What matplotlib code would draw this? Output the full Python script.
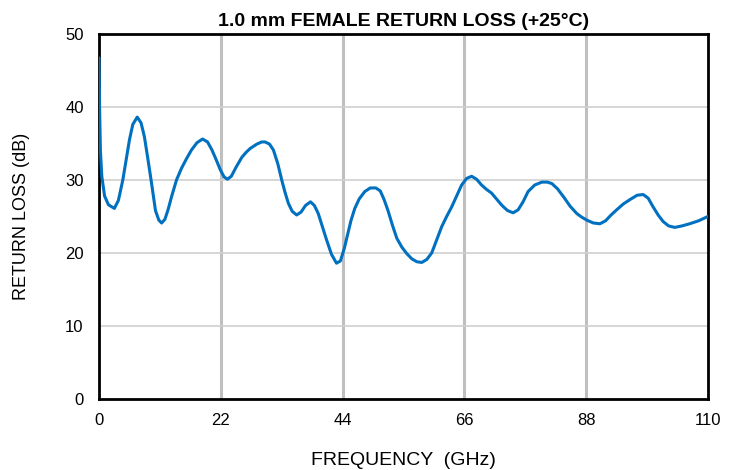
import numpy as np
import matplotlib
matplotlib.use("Agg")
import matplotlib.pyplot as plt

plt.rcParams['font.family'] = ['Liberation Sans', 'DejaVu Sans']

# values
freq_ghz = [0.0, 0.1, 0.25, 0.5, 1.0, 1.7, 2.77, 3.5, 4.3, 5.0, 5.5, 6.1,
            6.9, 7.6, 8.2, 8.8, 9.4, 10.2, 10.8, 11.3, 11.9, 12.5, 13.1, 14.0,
            14.9, 15.8, 16.7, 17.7, 18.7, 19.6, 20.4, 21.2, 21.9, 22.6, 23.2,
            23.9, 24.8, 25.8, 26.6, 27.3, 28.5, 29.4, 30.0, 30.8, 31.5, 32.3,
            33.0, 33.6, 34.2, 34.9, 35.7, 36.5, 37.3, 38.2, 38.9, 39.6, 40.3,
            41.1, 42.0, 42.9, 43.6, 44.3, 44.9, 45.5, 46.2, 47.0, 48.0, 49.0,
            50.0, 50.8, 51.5, 52.2, 53.0, 53.8, 54.7, 55.6, 56.5, 57.4, 58.3,
            59.2, 60.1, 61.0, 61.9, 62.8, 63.7, 64.6, 65.5, 66.4, 67.3, 68.2,
            69.1, 70.0, 70.9, 71.8, 72.8, 73.8, 74.8, 75.7, 76.6, 77.5, 78.7,
            80.0, 81.0, 81.8, 82.8, 83.9, 85.1, 86.3, 87.2, 88.1, 89.3, 90.5,
            91.5, 92.5, 93.5, 94.7, 95.9, 97.2, 98.3, 99.2, 100.1, 101.0,
            101.9, 102.9, 104.0, 105.3, 106.7, 108.3, 110.0]
return_loss_db = [46.7, 40.0, 34.0, 30.5, 27.8, 26.6, 26.1, 27.2, 30.0, 33.2,
                  35.5, 37.6, 38.6, 37.8, 35.9, 33.0, 30.0, 25.8, 24.5, 24.1,
                  24.6, 26.0, 27.7, 30.0, 31.6, 32.9, 34.1, 35.1, 35.6, 35.2,
                  34.1, 32.7, 31.4, 30.4, 30.1, 30.5, 31.8, 33.1, 33.8, 34.3,
                  34.9, 35.2, 35.2, 34.9, 34.1, 32.2, 30.0, 28.3, 26.8, 25.7,
                  25.2, 25.6, 26.5, 27.0, 26.5, 25.4, 23.7, 21.8, 19.8, 18.6,
                  18.9, 20.6, 22.5, 24.4, 26.1, 27.4, 28.4, 28.9, 28.9, 28.5,
                  27.3, 25.8, 23.8, 22.0, 20.8, 19.9, 19.2, 18.8, 18.7, 19.1,
                  20.0, 21.8, 23.6, 25.0, 26.3, 27.8, 29.3, 30.2, 30.5, 30.1,
                  29.3, 28.7, 28.2, 27.4, 26.5, 25.8, 25.5, 25.9, 27.0, 28.4,
                  29.3, 29.7, 29.7, 29.5, 28.8, 27.7, 26.4, 25.4, 24.9, 24.5,
                  24.1, 24.0, 24.4, 25.2, 25.9, 26.7, 27.3, 27.9, 28.0, 27.5,
                  26.3, 25.2, 24.3, 23.7, 23.5, 23.7, 24.0, 24.4, 25.0]

x_ticks = [0, 22, 44, 66, 88, 110]
y_ticks = [0, 10, 20, 30, 40, 50]

fig = plt.figure(figsize=(7.39, 4.70), dpi=100)
ax = fig.add_axes([0.134, 0.151, 0.824, 0.777])

# grid: heavy vertical, light horizontal
for xv in x_ticks[1:-1]:
    ax.axvline(xv, color='#BFBFBF', lw=2.2, zorder=1)
for yv in y_ticks[1:-1]:
    ax.axhline(yv, color='#D0D0D0', lw=1.2, zorder=1)

ax.plot(freq_ghz, return_loss_db, color='#0070C0', lw=2.2,
        solid_joinstyle='round', solid_capstyle='round', zorder=3)

ax.set_xlim(0, 110)
ax.set_ylim(0, 50)
ax.set_xticks(x_ticks)
ax.set_yticks(y_ticks)
ax.tick_params(length=0, labelsize=12)
ax.tick_params(axis='x', pad=10)
ax.tick_params(axis='y', pad=11)
for s in ax.spines.values():
    s.set_linewidth(2)
    s.set_color('black')

ax.set_title('1.0 mm FEMALE RETURN LOSS (+25°C)', fontsize=14,
             fontweight='bold', pad=6)
ax.set_xlabel('FREQUENCY  (GHz)', fontsize=14, labelpad=17)
ax.set_ylabel('RETURN LOSS (dB)', fontsize=13, labelpad=25)

fig.savefig('out.png', dpi=100)
